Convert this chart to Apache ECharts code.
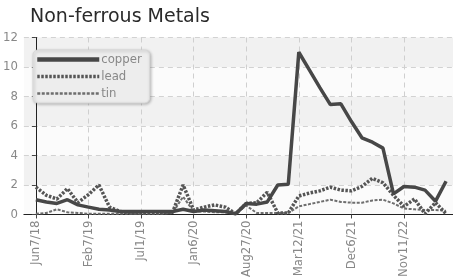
<!DOCTYPE html>
<html>
<head>
<meta charset="utf-8">
<script src="https://cdn.jsdelivr.net/npm/echarts@6/dist/echarts.min.js"></script>
<style>
html,body{margin:0;padding:0;background:#fff;}
#c{width:453px;height:280px;}
</style>
</head>
<body>
<div id="c"></div>
<script>
// Tick labels shown on the x axis (every 5th observation)
var tickLabels = ['Jun7/18','Feb7/19','Jul1/19','Jan6/20','Aug27/20','Mar12/21','Dec6/21','Nov11/22'];
var tickEvery = 5;
var seriesNames = ['copper','lead','tin'];
var copper = [1.0,0.85,0.75,1.0,0.65,0.5,0.35,0.3,0.2,0.2,0.2,0.2,0.2,0.2,0.35,0.2,0.3,0.25,0.2,0.05,0.75,0.7,0.85,2.0,2.05,11.0,9.8,8.6,7.45,7.5,6.3,5.2,4.9,4.5,1.4,1.9,1.85,1.65,0.9,2.25];
var lead   = [1.85,1.3,1.05,1.75,0.8,1.35,2.0,0.5,0.2,0.1,0.1,0.1,0.1,0.15,2.0,0.3,0.5,0.65,0.5,0.05,0.75,0.8,1.5,0.1,0.1,1.25,1.45,1.6,1.85,1.65,1.6,1.9,2.45,2.15,1.3,0.55,1.05,0.05,0.8,0.05];
var tin    = [0.05,0.1,0.35,0.15,0.1,0.05,0.05,0.05,0.05,0.05,0.05,0.05,0.05,0.1,1.2,0.2,0.2,0.15,0.15,0.05,0.6,0.1,0.1,0.1,0.1,0.55,0.7,0.85,1.0,0.85,0.8,0.8,0.95,1.0,0.75,0.4,0.35,0.3,0.3,0.25];

function pts(arr){ return arr.map(function(v,i){ return [i,v]; }); }
var tickVals = tickLabels.map(function(_,k){ return k*tickEvery; });
var narrow = '"Liberation Sans Narrow","DejaVu Sans Condensed",sans-serif';

var chart = echarts.init(document.getElementById('c'), null, {renderer:'canvas'});
chart.setOption({
  animation:false,
  backgroundColor:'#fff',
  title:{
    text:'Non-ferrous Metals', left:25, top:3,
    textStyle:{fontFamily:'"DejaVu Sans",sans-serif', fontSize:19, fontWeight:'normal', color:'#2a2a2a'}
  },
  legend:{
    orient:'vertical', left:33, top:50,
    data:[
      {name:'copper', lineStyle:{width:4.5}},
      {name:'lead', lineStyle:{width:3.5}},
      {name:'tin', lineStyle:{width:2.5}}
    ],
    itemWidth:62, itemHeight:13, itemGap:4,
    itemStyle:{opacity:0},
    padding:[3,8,3,2],
    backgroundColor:'#ededed', borderColor:'#d8d8d8', borderWidth:1, borderRadius:5,
    shadowColor:'rgba(0,0,0,0.25)', shadowBlur:3, shadowOffsetX:1, shadowOffsetY:1,
    textStyle:{fontFamily:narrow, fontSize:13, color:'#888', padding:[0,0,0,-3]}
  },
  grid:{left:23, right:0, top:37.5, bottom:63, containLabel:false},
  xAxis:{
    type:'value', min:-1.14, max:39.66,
    axisLine:{show:true, onZero:true, lineStyle:{color:'#222', width:1}},
    axisTick:{show:true, customValues:tickVals, length:4, lineStyle:{color:'#444'}},
    axisLabel:{customValues:tickVals, rotate:90, color:'#888', fontFamily:narrow, fontSize:13, margin:6,
      formatter:function(v){ return tickLabels[Math.round(v/tickEvery)]; }},
    splitLine:{show:true, lineStyle:{color:'#cfcfcf', type:[5,4]}}
  },
  yAxis:{
    type:'value', min:0, max:12, interval:2,
    axisLine:{show:true, lineStyle:{color:'#222', width:1}},
    axisTick:{show:true, length:4, lineStyle:{color:'#444'}},
    axisLabel:{color:'#888', fontFamily:narrow, fontSize:13, margin:6},
    splitLine:{show:true, lineStyle:{color:'#d2d2d2', type:[5,4]}},
    splitArea:{show:true, areaStyle:{color:['#fbfbfb','#f1f1f1']}}
  },
  series:[
    {name:'copper', type:'line', data:pts(copper), symbol:'none', z:3,
     lineStyle:{color:'#474747', width:3.5, type:'solid'}, itemStyle:{color:'#474747'}},
    {name:'lead', type:'line', data:pts(lead), symbol:'none', z:2,
     lineStyle:{color:'#555', width:3.5, type:[2.5,1.5]}, itemStyle:{color:'#555'}},
    {name:'tin', type:'line', data:pts(tin), symbol:'none', z:1,
     lineStyle:{color:'#6e6e6e', width:2, type:[3,1.5]}, itemStyle:{color:'#6e6e6e'}}
  ]
});
</script>
</body>
</html>
